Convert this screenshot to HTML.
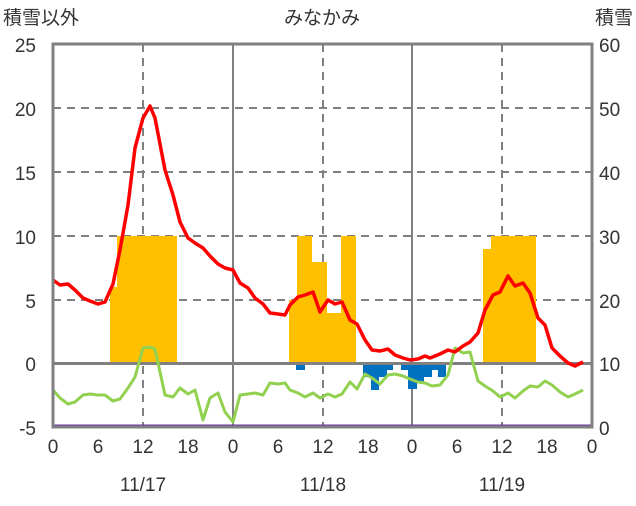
<!DOCTYPE html>
<html><head><meta charset="utf-8"><style>
body{margin:0;background:#fff}
svg text{font-family:"Liberation Sans","Noto Sans CJK JP",sans-serif;fill:#333;font-size:19px}
</style></head><body>
<svg width="636" height="501" viewBox="0 0 636 501">
<g stroke="#808080" stroke-width="2" stroke-dasharray="8,6">
<line x1="53" y1="108" x2="592" y2="108"/><line x1="53" y1="172" x2="592" y2="172"/>
<line x1="53" y1="236" x2="592" y2="236"/><line x1="53" y1="300" x2="592" y2="300"/>
<line x1="143" y1="44" x2="143" y2="427"/><line x1="323" y1="44" x2="323" y2="427"/><line x1="502" y1="44" x2="502" y2="427"/>
</g>
<g stroke="#808080" stroke-width="2"><line x1="233" y1="44" x2="233" y2="427"/><line x1="412" y1="44" x2="412" y2="427"/></g>
<g fill="#FFC000">
<rect x="110" y="287" width="7.5" height="76"/><rect x="117" y="236" width="60" height="127"/>
<rect x="289" y="300" width="8" height="63"/><rect x="297" y="236" width="15" height="127"/>
<rect x="312" y="262" width="15" height="101"/><rect x="327" y="313" width="14" height="50"/>
<rect x="341" y="236" width="15" height="127"/>
<rect x="483" y="249" width="8" height="114"/><rect x="491" y="236" width="45" height="127"/>
</g>
<g fill="#0070C0">
<rect x="296" y="363" width="9" height="7"/>
<rect x="363" y="363" width="8" height="14"/><rect x="371" y="363" width="8" height="27"/>
<rect x="379" y="363" width="8" height="14"/><rect x="387" y="363" width="6" height="7"/>
<rect x="401" y="363" width="7" height="7"/><rect x="408" y="363" width="9" height="26"/>
<rect x="417" y="363" width="7" height="20"/><rect x="424" y="363" width="8" height="14"/>
<rect x="432" y="363" width="6" height="7"/><rect x="438" y="363" width="8" height="14"/>
</g>
<line x1="53" y1="363.5" x2="592" y2="363.5" stroke="#808080" stroke-width="3"/>
<polyline fill="none" stroke="#92D050" stroke-width="3" stroke-linejoin="round" points="53,390 60,398 68,404 75,402 83,395 90,394 98,395 105,395 113,401 120,399 128,388 135,377 143,348 150,347 155,349 165,395 173,397 180,388 188,394 195,390 203,420 210,398 218,393 225,412 233,422 240,395 248,394 255,393 263,395 270,383 278,384 285,383 290,390 298,393 305,397 313,393 320,398 328,394 335,397 342,394 350,382 357,389 365,374 372,378 380,384 388,375 395,374 403,376 410,379 418,382 425,383 432,386 440,385 448,375 455,348 463,353 470,352 478,381 485,386 493,391 500,397 508,393 515,398 523,391 530,386 538,387 545,381 552,385 560,392 568,397 575,394 583,390"/>
<polyline fill="none" stroke="#FF0000" stroke-width="3.5" stroke-linejoin="round" points="53,280 60,285 68,284 75,290 83,298 90,301 98,304 105,302 113,284 120,250 128,205 135,148 143,118 150,106 155,118 165,170 173,195 180,222 188,238 195,243 203,248 210,256 218,264 225,268 233,270 240,283 248,288 255,298 263,304 270,313 278,314 285,315 290,305 298,297 305,295 313,292 320,312 328,300 335,304 342,302 350,320 357,324 365,340 372,350 380,351 388,349 395,355 403,358 410,360 418,359 425,356 430,358 440,354 448,350 455,352 463,346 470,342 478,333 485,310 493,295 500,292 508,276 515,286 523,283 530,293 538,318 545,325 552,348 560,356 568,363 575,366 583,362"/>
<line x1="53" y1="426" x2="592" y2="426" stroke="#7030A0" stroke-width="3"/>
<rect x="53" y="44" width="539" height="383" fill="none" stroke="#808080" stroke-width="3"/>
<g text-anchor="end">
<text x="36" y="52">25</text><text x="36" y="116">20</text><text x="36" y="180">15</text>
<text x="36" y="244">10</text><text x="36" y="308">5</text><text x="36" y="371">0</text><text x="36" y="435">-5</text>
</g>
<g text-anchor="start">
<text x="599" y="52">60</text><text x="599" y="116">50</text><text x="599" y="180">40</text>
<text x="599" y="244">30</text><text x="599" y="308">20</text><text x="599" y="371">10</text><text x="599" y="435">0</text>
</g>
<g text-anchor="middle">
<text x="53" y="453">0</text><text x="98" y="453">6</text><text x="143" y="453">12</text><text x="188" y="453">18</text>
<text x="233" y="453">0</text><text x="278" y="453">6</text><text x="323" y="453">12</text><text x="368" y="453">18</text>
<text x="412" y="453">0</text><text x="457" y="453">6</text><text x="502" y="453">12</text><text x="547" y="453">18</text>
<text x="592" y="453">0</text>
<text x="143" y="491">11/17</text><text x="323" y="491">11/18</text><text x="502" y="491">11/19</text>
<text x="322" y="24">みなかみ</text>
</g>
<text x="3" y="24">積雪以外</text>
<text x="633" y="24" text-anchor="end">積雪</text>
</svg>
</body></html>
